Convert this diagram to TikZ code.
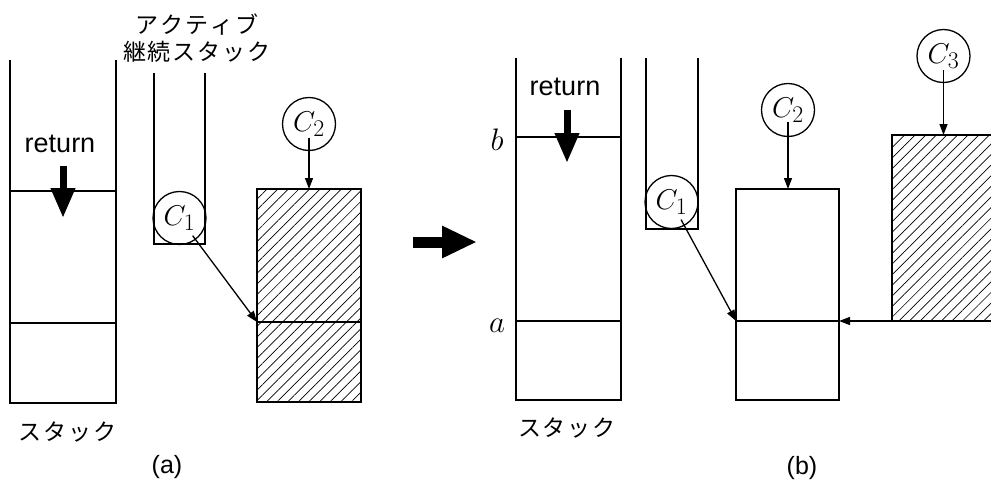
\documentclass[tikz,border=0pt]{standalone}
\usepackage{graphicx}
\usepackage{fontspec}
\setmainfont{Liberation Sans}
\newfontfamily\jp{Noto Sans CJK JP}
\usetikzlibrary{arrows.meta,patterns.meta}
\newcommand{\jk}[1]{\makebox[25pt]{#1}}
\newcommand{\cv}[1]{\scalebox{1.15}{\fontsize{24.88}{25}\selectfont$C_{\mbox{\fontsize{20.74}{20}\selectfont$#1$}}$}}
\newcommand{\mv}[1]{\scalebox{1.25}{\fontsize{24.88}{25}\selectfont$#1$}}
\tikzset{
  frame/.style={line width=1.5pt, line join=miter},
  conn/.style={line width=1.3pt, -{Triangle[length=11pt,width=8pt]}},
  retarrow/.style={line width=7pt, -{Triangle[length=30pt,width=23pt]}},
  bigarrow/.style={line width=11pt, -{Triangle[length=35pt,width=30pt]}},
  circ/.style={circle, draw, line width=1.3pt, minimum size=53pt, inner sep=0pt},
  hatch/.style={pattern={Lines[angle=45,distance=7.5pt,line width=0.7pt]}},
  jlabel/.style={font=\jp\fontsize{23}{27}\selectfont, align=center, inner sep=0pt},
  sans/.style={font=\fontsize{27}{27}\selectfont, inner sep=0pt},
  plabel/.style={font=\fontsize{25}{25}\selectfont, inner sep=0pt},
  mlabel/.style={inner sep=0pt}
}
\begin{document}
\begin{tikzpicture}[x=1pt,y=-1pt]
\useasboundingbox (0,0) rectangle (991,488);

% ================= (a) =================
% stack
\draw[frame] (10,60) -- (10,403) -- (116,403) -- (116,60);
\draw[frame] (10,191) -- (116,191);
\draw[frame] (10,323) -- (116,323);
\node[sans] (reta) at (60,144) {return};
\coordinate (ra1) at (63,166);
\coordinate (ra2) at (63,218);
\draw[retarrow] (ra1) -- (ra2);
\node[jlabel] (stka) at (68,432) {\jk{ス}\jk{タ}\jk{ッ}\jk{ク}};

% active continuation stack
\node[jlabel] (acts) at (197,38) {\jk{ア}\jk{ク}\jk{テ}\jk{ィ}\jk{ブ}\\\jk{継}\jk{続}\jk{ス}\jk{タ}\jk{ッ}\jk{ク}};
\draw[frame] (154,73) -- (154,244) -- (205,244) -- (205,73);
\node[circ] (c1a) at (179.5,218) {\cv{1}};

% hatched box
\fill[hatch] (257,189) rectangle (361,402);
\draw[frame] (257,189) rectangle (361,402);
\draw[frame] (257,322) -- (361,322);
\coordinate (mida) at (257,322);
\coordinate (topa) at (309,189);
\node[circ] (c2a) at (309,124) {\cv{2}};
\draw[conn, shorten <=14pt] (c2a.center) -- (topa);
\draw[conn, shorten <=22pt] (c1a.center) -- (mida);

\node[plabel] (laba) at (167,467) {(a)};

% ================= big arrow =================
\coordinate (ba1) at (413,242);
\coordinate (ba2) at (477,242);
\draw[bigarrow] (ba1) -- (ba2);

% ================= (b) =================
\draw[frame] (516,58) -- (516,400) -- (621,400) -- (621,58);
\draw[frame] (516,137) -- (621,137);
\draw[frame] (516,321) -- (621,321);
\node[mlabel] (lb) at (497,140) {\mv{b}};
\node[mlabel] (la) at (497,326) {\mv{a}};
\node[sans] (retb) at (565,87) {return};
\coordinate (rb1) at (567,110);
\coordinate (rb2) at (567,163);
\draw[retarrow] (rb1) -- (rb2);
\node[jlabel] (stkb) at (567,428) {\jk{ス}\jk{タ}\jk{ッ}\jk{ク}};

% continuation stack
\draw[frame] (646,58) -- (646,229) -- (698,229) -- (698,58);
\node[circ] (c1b) at (671.5,202) {\cv{1}};

% white box
\draw[frame] (736,189) rectangle (839,400);
\draw[frame] (736,321) -- (839,321);
\coordinate (midb) at (736,321);
\coordinate (rgtb) at (839,321);
\coordinate (topb) at (788,189);
\node[circ] (c2b) at (788,110) {\cv{2}};
\draw[conn, shorten <=12pt] (c2b.center) -- (topb);
\draw[conn, shorten <=20pt] (c1b.center) -- (midb);

% hatched box C3
\fill[hatch] (892,135) rectangle (991,321);
\draw[frame] (991,135) -- (892,135) -- (892,321) -- (991,321);
\coordinate (h3bl) at (892,321);
\coordinate (topc) at (943.5,135);
\node[circ] (c3b) at (943.5,56) {\cv{3}};
\draw[conn, shorten <=14pt] (c3b.center) -- (topc);
\draw[conn] (h3bl) -- (rgtb);

\node[plabel] (labb) at (802,468) {(b)};
\end{tikzpicture}
\end{document}
